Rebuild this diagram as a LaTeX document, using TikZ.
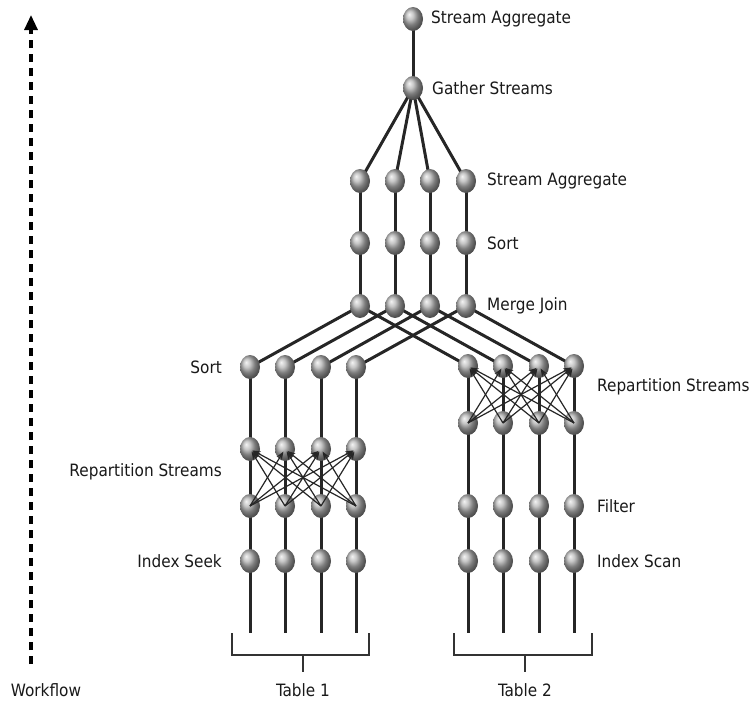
\documentclass[tikz,border=0pt]{standalone}
\usepackage{fontspec}
\setmainfont{DejaVu Sans Condensed}
\usetikzlibrary{shapes.geometric,arrows.meta}
\pgfdeclarelayer{bg}
\pgfsetlayers{bg,main}
\begin{document}
\begin{tikzpicture}[x=1pt,y=-1pt,
  ballnode/.style={ellipse,minimum width=20pt,minimum height=24pt,inner sep=0pt,shading=ball,ball color=gray!60},
  thick line/.style={line width=3pt,draw=black!85},
  xarrow/.style={line width=1.2pt,draw=black!85,-{Stealth[length=8pt,width=6pt]},shorten >=3pt},
  lbl/.style={font=\fontsize{17}{20}\selectfont,text=black!90,inner sep=0pt},
  brk/.style={line width=2.4pt,draw=black!80}]
\useasboundingbox (0,0) rectangle (753,702);
% Top
\node[ballnode] (top) at (413,19) {};
\node[ballnode] (gat) at (413,88) {};
% upper columns
\foreach \i/\x in {1/360,2/395,3/430,4/466}{
  \node[ballnode] (sa\i) at (\x,181) {};
  \node[ballnode] (so\i) at (\x,243) {};
  \node[ballnode] (mj\i) at (\x,306) {};
}
% left group
\foreach \i/\x in {1/250,2/285,3/321,4/356}{
  \node[ballnode] (ls\i) at (\x,367) {};
  \node[ballnode] (lt\i) at (\x,449) {};
  \node[ballnode] (lb\i) at (\x,506) {};
  \node[ballnode] (li\i) at (\x,561) {};
  \coordinate (le\i) at (\x,633);
}
% right group
\foreach \i/\x in {1/468,2/503,3/539,4/574}{
  \node[ballnode] (rt\i) at (\x,366) {};
  \node[ballnode] (rb\i) at (\x,423) {};
  \node[ballnode] (rf\i) at (\x,506) {};
  \node[ballnode] (ri\i) at (\x,561) {};
  \coordinate (re\i) at (\x,633);
}
% connectors behind balls
\begin{pgfonlayer}{bg}
  \draw[thick line] (top.center) -- (gat.center);
  \foreach \i in {1,...,4}{
    \draw[thick line] (gat.center) -- (sa\i.center);
    \draw[thick line] (sa\i.center) -- (mj\i.center);
    \draw[thick line] (mj\i.center) -- (ls\i.center);
    \draw[thick line] (mj\i.center) -- (rt\i.center);
    \draw[thick line] (ls\i.center) -- (le\i);
    \draw[thick line] (rt\i.center) -- (re\i);
  }
\end{pgfonlayer}
% repartition arrows over balls
\foreach \i in {1,...,4}{
  \foreach \j in {1,...,4}{
    \ifnum\i=\j\else
      \draw[xarrow] (lb\j.center) -- (lt\i.center);
      \draw[xarrow] (rb\j.center) -- (rt\i.center);
    \fi
  }
}
% labels
\node[lbl,anchor=west] at (431,19) {Stream Aggregate};
\node[lbl,anchor=west] at (432,88) {Gather Streams};
\node[lbl,anchor=west] at (487,181) {Stream Aggregate};
\node[lbl,anchor=west] at (487,243) {Sort};
\node[lbl,anchor=west] at (487,306) {Merge Join};
\node[lbl,anchor=east] at (222,367) {Sort};
\node[lbl,anchor=east] at (222,472) {Repartition Streams};
\node[lbl,anchor=east] at (222,561) {Index Seek};
\node[lbl,anchor=west] at (597,387) {Repartition Streams};
\node[lbl,anchor=west] at (597,506) {Filter};
\node[lbl,anchor=west] at (597,561) {Index Scan};
% brackets
\coordinate (b1a) at (232,633); \coordinate (b1b) at (369,633);
\coordinate (b1c) at (303,655); \coordinate (b1d) at (303,672);
\draw[brk] (b1a) -- (232,655) -- (369,655) -- (b1b);
\draw[brk] (b1c) -- (b1d);
\node[lbl] (t1) at (303,690) {Table 1};
\coordinate (b2a) at (454,633); \coordinate (b2b) at (592,633);
\coordinate (b2c) at (525,655); \coordinate (b2d) at (525,672);
\draw[brk] (b2a) -- (454,655) -- (592,655) -- (b2b);
\draw[brk] (b2c) -- (b2d);
\node[lbl] (t2) at (525,690) {Table 2};
% workflow arrow
\coordinate (wa) at (31,664);
\coordinate (wb) at (31,15);
\draw[line width=3.2pt,draw=black,dash pattern=on 8pt off 6pt,-{Triangle[length=15pt,width=13pt]}] (wa) -- (wb);
\node[lbl] (wf) at (46,690) {Workflow};
\end{tikzpicture}
\end{document}
